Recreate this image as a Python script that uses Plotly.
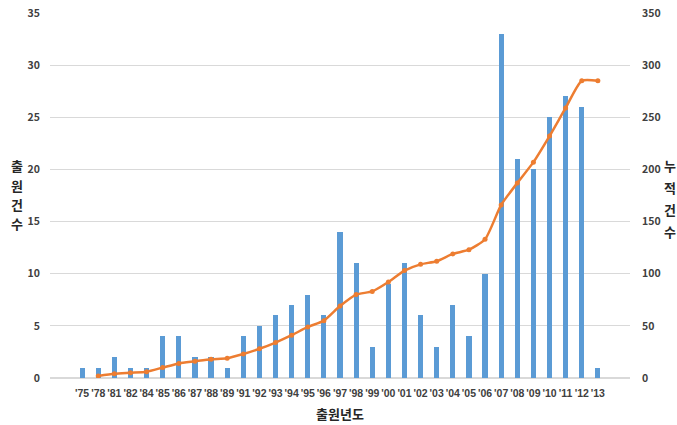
import plotly.graph_objects as go

years = ["'75", "'78", "'81", "'82", "'84", "'85", "'86", "'87", "'88", "'89",
         "'91", "'92", "'93", "'94", "'95", "'96", "'97", "'98", "'99", "'00",
         "'01", "'02", "'03", "'04", "'05", "'06", "'07", "'08", "'09", "'10",
         "'11", "'12", "'13"]

filings = [1, 1, 2, 1, 1, 4, 4, 2, 2, 1,
           4, 5, 6, 7, 8, 6, 14, 11, 3, 9,
           11, 6, 3, 7, 4, 10, 33, 21, 20, 25,
           27, 26, 1]

cumulative = [None, 2, 4, 5, 6, 10, 14, 16, 18, 19,
              23, 28, 34, 41, 49, 55, 69, 80, 83, 92,
              103, 109, 112, 119, 123, 133, 166, 187, 207, 232,
              259, 285, 285]

left_ticks = [0, 5, 10, 15, 20, 25, 30, 35]
right_ticks = [0, 50, 100, 150, 200, 250, 300, 350]

BLUE = "#5B9BD5"
ORANGE = "#ED7D31"
FONT = "Noto Sans CJK KR"
TICK_COLOR = "#404040"

fig = go.Figure()

fig.add_trace(go.Bar(
    x=years, y=filings, name="출원건수",
    marker=dict(color=BLUE, line=dict(width=0)),
    width=0.32,
    yaxis="y",
))

fig.add_trace(go.Scatter(
    x=years, y=cumulative, name="누적건수",
    mode="lines+markers",
    line=dict(color=ORANGE, width=2.5, shape="spline", smoothing=0.6),
    marker=dict(color=ORANGE, size=5),
    connectgaps=False,
    yaxis="y2",
))

tickfont = dict(family=FONT, size=10.5, color=TICK_COLOR, weight="bold")
xtickfont = dict(family="Liberation Sans", size=10.5, color=TICK_COLOR, weight="bold")

fig.update_layout(
    width=677, height=425,
    margin=dict(l=50, r=47, t=13, b=47),
    paper_bgcolor="white",
    plot_bgcolor="white",
    showlegend=False,
    bargap=0,
    font=dict(family=FONT),
    xaxis=dict(
        type="category",
        tickfont=xtickfont,
        tickangle=0,
        automargin=False,
        showgrid=False,
        showline=False,
        ticks="",
        ticklabelstandoff=7,
    ),
    yaxis=dict(
        range=[0, 35],
        tickvals=left_ticks,
        tickfont=tickfont,
        automargin=False,
        showgrid=True,
        gridcolor="#D9D9D9",
        gridwidth=1,
        zeroline=True,
        zerolinecolor="#D9D9D9",
        showline=False,
        ticks="",
        ticklabelstandoff=9,
    ),
    yaxis2=dict(
        range=[0, 350],
        tickvals=right_ticks,
        overlaying="y",
        side="right",
        tickfont=tickfont,
        automargin=False,
        showgrid=False,
        zeroline=False,
        showline=False,
        ticks="",
        ticklabelstandoff=11,
    ),
)

title_font = dict(family=FONT, size=13, color="#262626", weight="bold")

plot_top, plot_h = 13, 425 - 13 - 47


def to_paper(py):
    return 1 - (py - plot_top) / plot_h


# x-axis title
fig.add_annotation(
    text="출원년도", xref="paper", yref="paper",
    x=0.5, y=to_paper(413), xanchor="center", yanchor="middle",
    showarrow=False, font=title_font,
)

# stacked vertical axis titles, one glyph per annotation
left_title = ["출", "원", "건", "수"]
left_y = [166, 186, 205, 224]
right_title = ["누", "적", "건", "수"]
right_y = [166, 187, 209, 231]

for ch, py in zip(left_title, left_y):
    fig.add_annotation(
        text=ch, xref="paper", yref="paper",
        x=(17 - 50) / 580, y=to_paper(py), xanchor="center", yanchor="middle",
        showarrow=False, font=title_font,
    )
for ch, py in zip(right_title, right_y):
    fig.add_annotation(
        text=ch, xref="paper", yref="paper",
        x=(670 - 50) / 580, y=to_paper(py), xanchor="center", yanchor="middle",
        showarrow=False, font=title_font,
    )

fig.write_html("out.html")
